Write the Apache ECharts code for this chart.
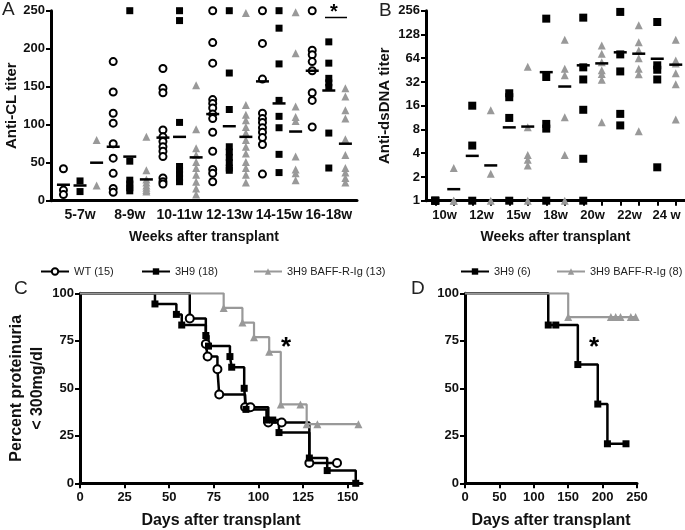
<!DOCTYPE html>
<html>
<head>
<meta charset="utf-8">
<script src="https://cdn.jsdelivr.net/npm/echarts@6/dist/echarts.min.js"></script>
<style>
  html, body { margin: 0; padding: 0; background: #fff; }
  #chart { width: 685px; height: 530px; }
</style>
</head>
<body>
<div id="chart"></div>
<script>
// ---- panel A: anti-CL titer per animal, 3 groups per time window ----
const aWeeks = ['5-7w', '8-9w', '10-11w', '12-13w', '14-15w', '16-18w']
const aWT = [
  [42, 14, 8],
  [183, 143, 115, 102, 75, 56, 36, 16, 11],
  [174, 148, 142, 93, 84, 78, 71, 65, 58, 30, 25, 22],
  [250, 208, 181, 133, 128, 122, 114, 108, 90, 65, 41, 36, 25],
  [250, 207, 160, 115, 108, 103, 96, 90, 83, 74, 35],
  [250, 198, 192, 183, 171, 142, 132, 97]
]
const a3H9 = [
  [26, 12],
  [250, 52, 27, 22, 17, 13],
  [250, 237, 103, 45, 40, 35, 30, 25],
  [250, 168, 120, 71, 64, 57, 50, 43, 40],
  [250, 227, 180, 132, 111, 96, 61, 37],
  [209, 181, 161, 155, 149, 89, 43]
]
const aBaff = [
  [80, 20],
  [84, 40, 28, 24, 20, 17, 14, 12],
  [152, 94, 69, 60, 51, 43, 34, 25, 16, 8],
  [247, 126, 113, 106, 97, 89, 80, 71, 62, 51, 43, 34, 24],
  [248, 194, 124, 110, 105, 58, 41, 36, 27],
  [148, 137, 119, 108, 81, 60, 43, 37, 30, 24]
]
const aWTMean = [21, 71, 83, 114, 157, 171]
const a3H9Mean = [20, 58, 84, 98, 128, 145]
const aBaffMean = [50, 28, 57, 84, 91, 75]

// ---- panel B: anti-dsDNA titer (log2) ----
const bWeeks = ['10w', '12w', '15w', '18w', '20w', '22w', '24 w']
const b3H9 = [
  [1, 1, 1],
  [16, 5, 1],
  [23, 20.5, 11.2, 1],
  [203, 37, 9.4, 8.2, 1],
  [209, 49, 34.4, 14.2, 3.4, 1],
  [247, 71.5, 43.5, 12.6, 9],
  [184, 52, 45.7, 34.4, 2.65]
]
const bBaff = [
  [2.6, 1, 1],
  [14, 2.2, 1],
  [50, 8.5, 3.8, 3.3, 2.8, 1],
  [110, 47, 39, 11.4, 3.8, 1],
  [93, 73, 57, 45, 40.5, 34, 9.9],
  [167, 102, 80, 64, 47, 40, 7.6],
  [110, 60, 55, 41.4, 30, 10.7]
]
const b3H9Mean = [1, 3.7, 8.5, 42.6, 52, 76, 63]
const bBaffMean = [1.4, 2.8, 8.7, 28, 55, 73, 53]

// ---- panel C: proteinuria-free survival ----
const cDaysWT = [0, 61.5, 70.5, 71.5, 77, 78, 92.5, 95.5, 105.5, 113, 128.5, 144]
const cPctWT = [100, 86.7, 73.3, 66.7, 60, 46.7, 40, 40, 32, 32, 10.7, 10.7]
const cDays3H9 = [0, 42, 54, 57, 70.5, 72, 84, 85, 92, 93, 104.5, 108, 111.5, 128.5, 138.5, 154.5]
const cPct3H9 = [100, 94.4, 88.9, 83.3, 77.8, 72.2, 66.7, 61.1, 50, 38.9, 33.3, 33.3, 26.7, 13.3, 6.7, 0]
const cDaysBaff = [0, 80.5, 91, 97.5, 106, 112.5, 123.5, 127, 133, 156]
const cPctBaff = [100, 92.3, 84.6, 76.9, 69.2, 41.5, 41.5, 31.1, 31.1, 31.1]

// ---- panel D ----
const dDays3H9 = [0, 121, 132, 164, 193, 207, 234]
const dPct3H9 = [100, 83.3, 83.3, 62.5, 41.7, 20.8, 20.8]
const dDaysBaff = [0, 150, 212, 219, 226, 241, 248]
const dPctBaff = [100, 87.5, 87.5, 87.5, 87.5, 87.5, 87.5]

const FONT = '"Liberation Sans", Arial, sans-serif'
const INK = '#000'
const GREY = '#999'

const boldText = (size) => ({ color: '#111', fontFamily: FONT, fontWeight: 'bold', fontSize: size })
const axisLine = { show: true, onZero: false, lineStyle: { color: INK, width: 3 } }
const axisTick = { show: true, length: 5, lineStyle: { color: INK, width: 2 } }

// points of each group sit in their own slot on the x axis
const toPoints = (groups, slotOf) => {
  const pts = []
  groups.forEach((vals, i) => vals.forEach(v => pts.push([slotOf(i), v])))
  return pts
}
const toMeans = (means, slotOf) => means.map((m, i) => [slotOf(i), m])

const kmData = (days, pct) => days.map((d, i) => (
  i === 0 ? { value: [d, pct[i]], symbol: 'none' } : [d, pct[i]]
))

const circleStyle = { color: '#fff', borderColor: INK, borderWidth: 2, opacity: 1 }
const solid = (c) => ({ color: c, opacity: 1 })
const meanSeries = (x, y, data) => ({
  type: 'scatter', xAxisIndex: x, yAxisIndex: y, symbol: 'rect', symbolSize: [13, 2.5],
  itemStyle: solid(INK), data, z: 5, silent: true
})

const option = {
  animation: false,
  backgroundColor: '#fff',
  grid: [
    { left: 51, top: 10.7, width: 306, height: 190 },
    { left: 426, top: 10.7, width: 259, height: 190 },
    { left: 80, top: 293.3, width: 282, height: 190 },
    { left: 465, top: 293.3, width: 172, height: 190 }
  ],
  xAxis: [
    {
      gridIndex: 0, type: 'value', min: -0.75, max: 17.7,
      axisLine, axisTick: { show: false }, splitLine: { show: false },
      axisLabel: {
        ...boldText(14), margin: 7,
        customValues: [1, 4, 7, 10, 13, 16],
        formatter: v => aWeeks[Math.round((v - 1) / 3)]
      },
      name: 'Weeks after transplant', nameLocation: 'middle', nameGap: 29,
      nameTextStyle: boldText(14)
    },
    {
      gridIndex: 1, type: 'value', min: -0.5, max: 13.5,
      axisLine, splitLine: { show: false },
      axisTick: { ...axisTick, customValues: [0, 1, 2, 3, 4, 5, 6, 7, 8, 9, 10, 11, 12, 13] },
      axisLabel: {
        ...boldText(13), margin: 8,
        customValues: [0.5, 2.5, 4.5, 6.5, 8.5, 10.5, 12.5],
        formatter: v => bWeeks[Math.round((v - 0.5) / 2)]
      },
      name: 'Weeks after transplant', nameLocation: 'middle', nameGap: 29,
      nameTextStyle: boldText(14)
    },
    {
      gridIndex: 2, type: 'value', min: 0, max: 158,
      axisLine, splitLine: { show: false },
      axisTick: { ...axisTick, customValues: [0, 25, 50, 75, 100, 125, 150] },
      axisLabel: { ...boldText(13), margin: 8, customValues: [0, 25, 50, 75, 100, 125, 150] },
      name: 'Days after transplant', nameLocation: 'middle', nameGap: 29,
      nameTextStyle: boldText(16)
    },
    {
      gridIndex: 3, type: 'value', min: 0, max: 250, interval: 50,
      axisLine, axisTick, splitLine: { show: false },
      axisLabel: { ...boldText(13), margin: 8 },
      name: 'Days after transplant', nameLocation: 'middle', nameGap: 29,
      nameTextStyle: boldText(16)
    }
  ],
  yAxis: [
    {
      gridIndex: 0, type: 'value', min: 0, max: 250, interval: 50,
      axisLine, axisTick, splitLine: { show: false },
      axisLabel: { ...boldText(13), margin: 6 },
      name: 'Anti-CL titer', nameLocation: 'middle', nameGap: 30,
      nameTextStyle: boldText(15)
    },
    {
      gridIndex: 1, type: 'log', logBase: 2, min: 1, max: 256, splitNumber: 8,
      axisLine, axisTick, splitLine: { show: false },
      axisLabel: { ...boldText(13), margin: 6 },
      name: 'Anti-dsDNA titer', nameLocation: 'middle', nameGap: 34,
      nameTextStyle: boldText(15)
    },
    {
      gridIndex: 2, type: 'value', min: 0, max: 100, interval: 25,
      axisLine, axisTick, splitLine: { show: false },
      axisLabel: { ...boldText(13), margin: 6 },
      name: 'Percent proteinuria\n< 300mg/dl', nameLocation: 'middle', nameGap: 27,
      nameTextStyle: { ...boldText(16), lineHeight: 21 }
    },
    {
      gridIndex: 3, type: 'value', min: 0, max: 100, interval: 25,
      axisLine, axisTick, splitLine: { show: false },
      axisLabel: { ...boldText(13), margin: 6 }
    }
  ],
  legend: [
    { data: ['WT (15)'], left: 35, top: 261 },
    { data: ['3H9 (18)'], left: 136, top: 261 },
    { data: ['3H9 BAFF-R-Ig (13)'], left: 248, top: 261 },
    { data: ['3H9 (6)'], left: 455, top: 261 },
    { data: ['3H9 BAFF-R-Ig (8)'], left: 551, top: 261 }
  ].map(l => ({
    ...l, itemWidth: 28, itemHeight: 8, itemGap: 0,
    textStyle: { color: '#222', fontFamily: FONT, fontSize: 11 }
  })),
  series: [
    // A
    {
      type: 'scatter', xAxisIndex: 0, yAxisIndex: 0, symbol: 'circle', symbolSize: 7,
      itemStyle: circleStyle, data: toPoints(aWT, i => 3 * i)
    },
    {
      type: 'scatter', xAxisIndex: 0, yAxisIndex: 0, symbol: 'rect', symbolSize: 7,
      itemStyle: solid(INK), data: toPoints(a3H9, i => 3 * i + 1)
    },
    {
      type: 'scatter', xAxisIndex: 0, yAxisIndex: 0, symbol: 'triangle', symbolSize: 8,
      itemStyle: solid(GREY), data: toPoints(aBaff, i => 3 * i + 2)
    },
    meanSeries(0, 0, toMeans(aWTMean, i => 3 * i)),
    meanSeries(0, 0, toMeans(a3H9Mean, i => 3 * i + 1)),
    meanSeries(0, 0, toMeans(aBaffMean, i => 3 * i + 2)),
    // B
    {
      type: 'scatter', xAxisIndex: 1, yAxisIndex: 1, symbol: 'rect', symbolSize: 8,
      itemStyle: solid(INK), data: toPoints(b3H9, i => 2 * i)
    },
    {
      type: 'scatter', xAxisIndex: 1, yAxisIndex: 1, symbol: 'triangle', symbolSize: 8,
      itemStyle: solid(GREY), data: toPoints(bBaff, i => 2 * i + 1)
    },
    meanSeries(1, 1, toMeans(b3H9Mean, i => 2 * i)),
    meanSeries(1, 1, toMeans(bBaffMean, i => 2 * i + 1)),
    // C
    {
      name: 'WT (15)', type: 'line', step: 'end', xAxisIndex: 2, yAxisIndex: 2,
      symbol: 'circle', symbolSize: 8, itemStyle: circleStyle,
      lineStyle: { color: INK, width: 2.5 }, data: kmData(cDaysWT, cPctWT)
    },
    {
      name: '3H9 (18)', type: 'line', step: 'end', xAxisIndex: 2, yAxisIndex: 2,
      symbol: 'rect', symbolSize: 7, itemStyle: solid(INK),
      lineStyle: { color: INK, width: 2.5 }, data: kmData(cDays3H9, cPct3H9)
    },
    {
      name: '3H9 BAFF-R-Ig (13)', type: 'line', step: 'end', xAxisIndex: 2, yAxisIndex: 2,
      symbol: 'triangle', symbolSize: 8, itemStyle: solid(GREY),
      lineStyle: { color: GREY, width: 2.2 }, data: kmData(cDaysBaff, cPctBaff), z: 4
    },
    // D
    {
      name: '3H9 (6)', type: 'line', step: 'end', xAxisIndex: 3, yAxisIndex: 3,
      symbol: 'rect', symbolSize: 7, itemStyle: solid(INK),
      lineStyle: { color: INK, width: 2.5 }, data: kmData(dDays3H9, dPct3H9)
    },
    {
      name: '3H9 BAFF-R-Ig (8)', type: 'line', step: 'end', xAxisIndex: 3, yAxisIndex: 3,
      symbol: 'triangle', symbolSize: 8, itemStyle: solid(GREY),
      lineStyle: { color: GREY, width: 2.2 }, data: kmData(dDaysBaff, dPctBaff), z: 4
    }
  ],
  graphic: [
    { type: 'text', left: 2, top: 0, style: { text: 'A', font: '19px ' + FONT, fill: '#222' } },
    { type: 'text', left: 379, top: 1, style: { text: 'B', font: '19px ' + FONT, fill: '#222' } },
    { type: 'text', left: 14, top: 279, style: { text: 'C', font: '19px ' + FONT, fill: '#222' } },
    { type: 'text', left: 411, top: 279, style: { text: 'D', font: '19px ' + FONT, fill: '#222' } },
    { type: 'line', shape: { x1: 325, y1: 17.5, x2: 347, y2: 17.5 }, style: { stroke: INK, lineWidth: 1.5 } },
    { type: 'text', left: 330, top: 2, style: { text: '*', font: 'bold 20px ' + FONT, fill: INK } },
    { type: 'text', left: 281, top: 335, style: { text: '*', font: 'bold 26px ' + FONT, fill: INK } },
    { type: 'text', left: 589, top: 335, style: { text: '*', font: 'bold 26px ' + FONT, fill: INK } }
  ]
}

const chart = echarts.init(document.getElementById('chart'))
chart.setOption(option)
</script>
</body>
</html>
